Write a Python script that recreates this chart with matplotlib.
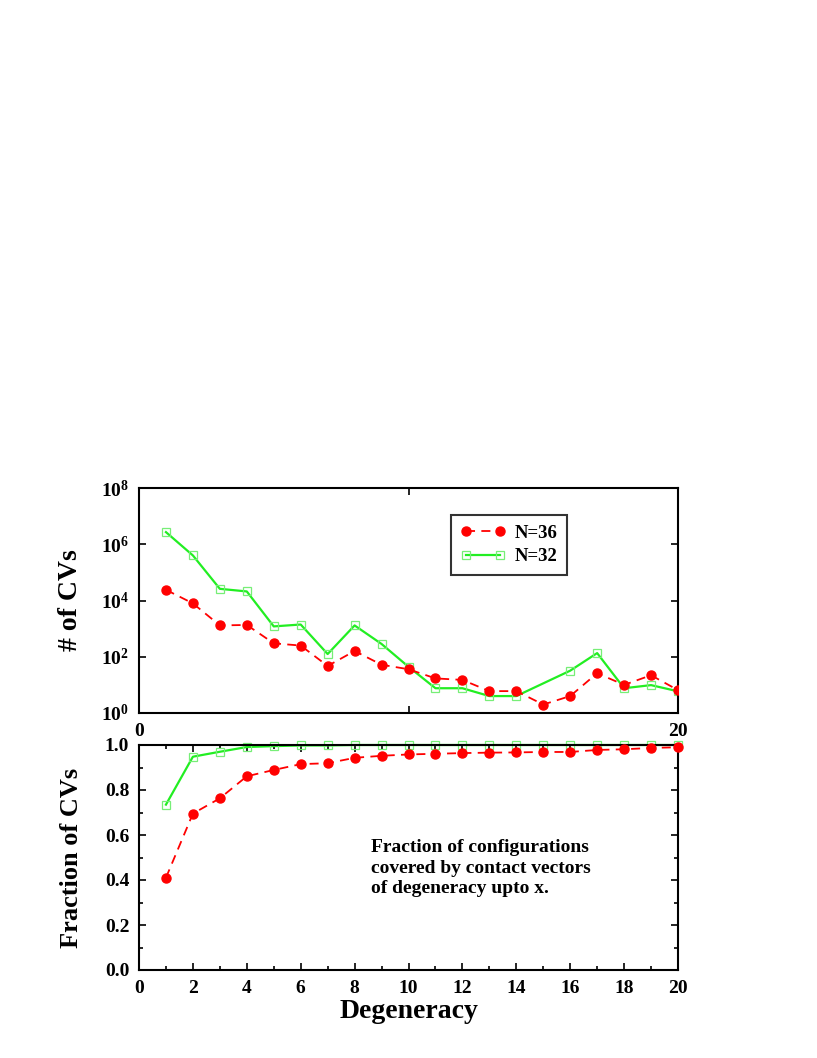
import numpy as np
import matplotlib
matplotlib.use("Agg")
import matplotlib.pyplot as plt
from matplotlib.ticker import MultipleLocator, FixedLocator, NullLocator, FormatStrFormatter

plt.rcParams['font.family'] = ['Liberation Serif', 'DejaVu Serif']
plt.rcParams['font.weight'] = 'bold'
plt.rcParams['mathtext.fontset'] = 'custom'
plt.rcParams['mathtext.rm'] = 'Liberation Serif:bold'
plt.rcParams['mathtext.bf'] = 'Liberation Serif:bold'

# ---- data -------------------------------------------------------------
deg = np.arange(1, 21)

# number of contact vectors with a given degeneracy
cv36 = [2.4e4, 7.9e3, 1.3e3, 1.35e3, 300, 250, 47, 160, 52, 36,
        17, 15, 6, 6, 2, 4, 26, 10, 22, 6.5]
deg32 = [1, 2, 3, 4, 5, 6, 7, 8, 9, 10, 11, 12, 13, 14, 16, 17, 18, 19, 20]
cv32 = [2.7e6, 4.0e5, 2.6e4, 2.1e4, 1.2e3, 1.4e3, 125, 1.3e3, 285, 44,
        7.6, 7.6, 4, 4, 32, 135, 7.6, 9.8, 5.9]

# cumulative fraction of configurations
frac36 = [0.41, 0.695, 0.763, 0.861, 0.889, 0.915, 0.919, 0.943, 0.952, 0.958,
          0.961, 0.964, 0.966, 0.967, 0.969, 0.969, 0.978, 0.981, 0.987, 0.990]
frac32 = [0.735, 0.948, 0.970, 0.991, 0.995, 0.998, 0.998, 1.0, 1.0, 1.0,
          1.0, 1.0, 1.0, 1.0, 1.0, 1.0, 1.0, 1.0, 1.0, 1.0]

red = "#ff0000"
green = "#22ee22"
sq_edge = "#77ee77"

fig = plt.figure(figsize=(8.17, 10.58), dpi=100)
W, H = 817, 1058
left, right = 139 / W, 678 / W
ax1 = fig.add_axes([left, 1 - 713 / H, right - left, (713 - 488) / H])
ax2 = fig.add_axes([left, 1 - 970 / H, right - left, (970 - 745) / H])

red_style = dict(color=red, ls=(0, (5, 3.5)), lw=1.3, marker="o",
                 ms=6.5, mfc=red, mec=red)
green_style = dict(color=green, ls="-", lw=1.6, marker="s",
                   ms=5.5, mfc="none", mec=sq_edge, mew=0.9)

# ---- top panel: counts ------------------------------------------------
ax1.plot(deg, cv36, label="N=36", zorder=3, **red_style)
ax1.plot(deg32, cv32, label="N=32", zorder=2, **green_style)
ax1.set_yscale("log")
ax1.set_xlim(0, 20)
ax1.set_ylim(1, 1e8)
ax1.yaxis.set_major_locator(FixedLocator([1, 1e2, 1e4, 1e6, 1e8]))
ax1.yaxis.set_minor_locator(NullLocator())
ax1.set_yticklabels([r"$\mathbf{10^{0}}$", r"$\mathbf{10^{2}}$", r"$\mathbf{10^{4}}$",
                     r"$\mathbf{10^{6}}$", r"$\mathbf{10^{8}}$"])
ax1.set_xticks([0, 10, 20])
ax1.set_xticklabels(["0", "", "20"])
ax1.set_ylabel("# of CVs", fontsize=20, fontweight="bold")
ax1.yaxis.set_label_coords(-0.104, 0.5)

leg = ax1.legend(loc="upper left", bbox_to_anchor=(0.579, 0.88), fontsize=13.5,
                 frameon=True, fancybox=False, numpoints=2, handlelength=2.4,
                 borderpad=0.5, labelspacing=0.35, handletextpad=0.5,
                 borderaxespad=0)
leg.get_frame().set_edgecolor("black")
leg.get_frame().set_linewidth(1.5)

# ---- bottom panel: cumulative fraction --------------------------------
ax2.plot(deg, frac36, zorder=3, clip_on=False, **red_style)
ax2.plot(deg, frac32, zorder=2, clip_on=False, **green_style)
ax2.set_xlim(0, 20)
ax2.set_ylim(0, 1)
ax2.xaxis.set_major_locator(MultipleLocator(2))
ax2.xaxis.set_minor_locator(MultipleLocator(1))
ax2.yaxis.set_major_locator(MultipleLocator(0.2))
ax2.yaxis.set_minor_locator(MultipleLocator(0.1))
ax2.yaxis.set_major_formatter(FormatStrFormatter("%.1f"))
ax2.set_xlabel("Degeneracy", fontsize=20, fontweight="bold", labelpad=2)
ax2.set_ylabel("Fraction of CVs", fontsize=19, fontweight="bold")
ax2.yaxis.set_label_coords(-0.104, 0.5)
ax2.text(0.43, 0.58, "Fraction of configurations\ncovered by contact vectors\nof degeneracy upto x.",
         transform=ax2.transAxes, fontsize=14, fontweight="bold",
         va="top", ha="left", linespacing=1.25)

for ax in (ax1, ax2):
    for sp in ax.spines.values():
        sp.set_linewidth(1.5)
    ax.tick_params(which="both", direction="in", top=True, right=True,
                   labelsize=14, width=1.2)
    ax.tick_params(which="major", length=5, pad=7)
    ax.tick_params(which="minor", length=3)
    for lab in ax.get_xticklabels() + ax.get_yticklabels():
        lab.set_fontweight("bold")

fig.savefig("out.png", dpi=100)
